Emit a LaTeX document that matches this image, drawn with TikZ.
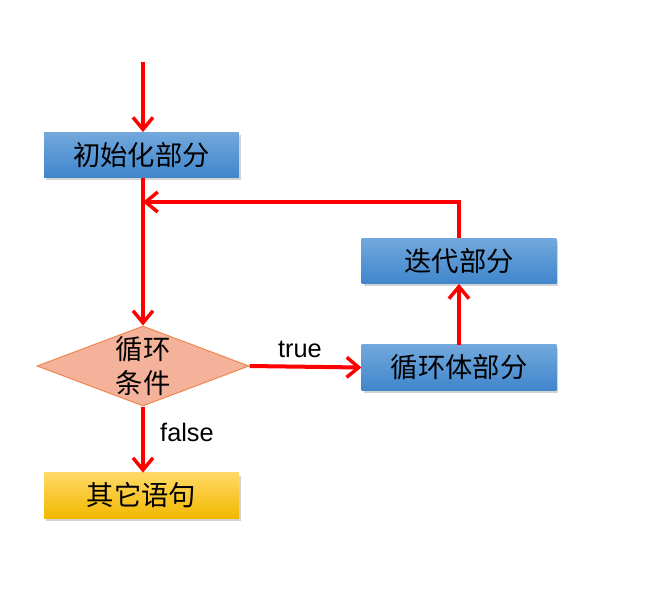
\documentclass[tikz,border=0pt]{standalone}
\usepackage{fontspec}
\setmainfont{Liberation Sans}
\newfontfamily\cjk{Noto Sans CJK SC}
\usetikzlibrary{arrows.meta,shapes.geometric,shadows}
\definecolor{boxtop}{HTML}{72A8DC}
\definecolor{boxbot}{HTML}{3F86CC}
\definecolor{endtop}{HTML}{FFD966}
\definecolor{endbot}{HTML}{F2B800}
\definecolor{condfill}{HTML}{F5B29B}
\definecolor{condline}{HTML}{EE8A55}
\definecolor{flowred}{HTML}{FF0000}
\begin{document}
\begin{tikzpicture}[x=0.75pt, y=-0.75pt,
    stepbox/.style={rectangle, minimum width=146pt, minimum height=34pt,
      top color=boxtop, bottom color=boxbot, font=\cjk\fontsize{20.5}{24}\selectfont,
      drop shadow={shadow xshift=1.5pt, shadow yshift=-2pt, opacity=0.35}},
    endbox/.style={stepbox, top color=endtop, bottom color=endbot},
    cond/.style={diamond, aspect=2.65, inner sep=0pt, minimum width=159pt, minimum height=60pt,
      fill=condfill, draw=condline, line width=0.8pt,
      font=\cjk\fontsize{20.5}{25}\selectfont, align=center},
    flow/.style={draw=flowred, line width=3pt, -{Straight Barb[length=9pt, width=15pt, line width=2.6pt]}},
    lbl/.style={font=\fontsize{19}{22}\selectfont}]
  \useasboundingbox (0,0) rectangle (660,615);
  \coordinate (start) at (143,62);
  \node[stepbox] (init) at (141.5,155) {初始化部分};
  \node[cond] (check) at (143,366) {循环\\条件};
  \node[stepbox] (body) at (459,367.5) {循环体部分};
  \node[stepbox] (iter) at (459,261) {迭代部分};
  \node[endbox] (other) at (141.5,495.5) {其它语句};
  \coordinate (back) at (459,202);
  \coordinate (join) at (143,202);
  \draw[flow] (start) -- (init.north -| start);
  \draw[flow] (init.south -| start) -- (check.north);
  \draw[flow] (check.east) -- (body.west);
  \node[lbl] at (300,349) {true};
  \draw[flow] (body.north) -- (iter.south);
  \draw[flow] (iter.north) -- (back) -- (join);
  \draw[flow] (check.south) -- (other.north -| check.south);
  \node[lbl] at (187,432) {false};
\end{tikzpicture}
\end{document}
